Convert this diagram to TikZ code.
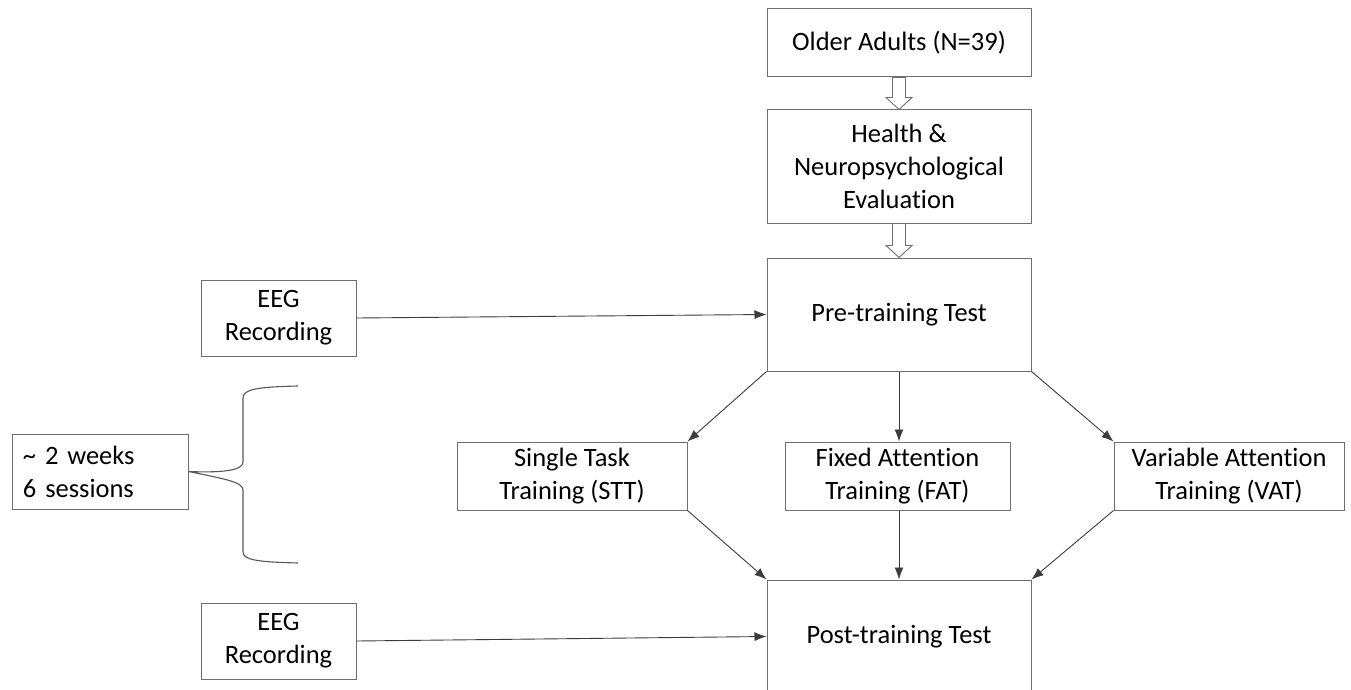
\documentclass[tikz,border=0pt]{standalone}
\usepackage{fontspec}
\setmainfont{Carlito}[Ligatures=NoCommon]
\usetikzlibrary{calc,arrows.meta}
\definecolor{boxline}{HTML}{6E6E6E}
\definecolor{arrline}{HTML}{3C3C3C}
\tikzset{
  box/.style={draw=boxline, line width=1pt, align=center, inner sep=2pt,
    font=\fontsize{26.5}{33}\selectfont, text=black},
  arr/.style={draw=arrline, line width=0.9pt, -{Latex[length=12pt,width=9pt]}},
  hollow/.style={draw=boxline, line width=0.9pt, fill=white},
  bracestyle/.style={draw=boxline!80!black, line width=1.1pt},
}
\begin{document}
\begin{tikzpicture}[x=1pt,y=-1pt]
\useasboundingbox (0,0) rectangle (1351,690);
\clip (0,0) rectangle (1351,690);
\fill[white] (0,0) rectangle (1351,690);

\node[box, minimum width=264, minimum height=68] (oa) at (899,43) {Older Adults (N=39)};
\node[box, minimum width=264, minimum height=113] (he) at (899,166.5) {Health \&\\Neuropsychological\\Evaluation};
\node[box, minimum width=264, minimum height=113] (pre) at (899,314.5) {Pre-training Test};
\node[box, minimum width=155, minimum height=76] (eeg1) at (278.5,318) {EEG\\Recording};
\node[box, minimum width=176, minimum height=75, align=left, text width=154] (wk) at (100,471.5) {\char`\~\ 2 weeks\\6 sessions};
\node[box, minimum width=230, minimum height=68] (stt) at (572,476) {Single Task\\Training (STT)};
\node[box, minimum width=225, minimum height=68] (fat) at (897.5,476) {Fixed Attention\\Training (FAT)};
\node[box, minimum width=230, minimum height=68] (vat) at (1229,476) {Variable Attention\\Training (VAT)};
\node[box, minimum width=264, minimum height=113] (post) at (899,636.5) {Post-training Test};
\node[box, minimum width=155, minimum height=76] (eeg2) at (278.5,641) {EEG\\Recording};

% hollow arrows
\foreach \a/\b in {oa/he, he/pre}{
  \draw[hollow] ($(\a.south)+(-6.5,0)$) -- ($(\a.south)+(6.5,0)$)
    -- ($(\b.north)+(6.5,-12)$) -- ($(\b.north)+(13,-12)$)
    -- (\b.north) -- ($(\b.north)+(-13,-12)$) -- ($(\b.north)+(-6.5,-12)$) -- cycle;
}

% connectors
\draw[arr] (eeg1.east) -- (pre.west);
\draw[arr] (eeg2.east) -- (post.west);
\draw[arr] (pre.south west) -- (stt.north east);
\draw[arr] (pre.south) -- (pre.south |- fat.north);
\draw[arr] (pre.south east) -- (vat.north west);
\draw[arr] (stt.south east) -- (post.north west);
\draw[arr] (fat.south -| post.north) -- (post.north);
\draw[arr] (vat.south west) -- (post.north east);

% brace
\coordinate (btop) at (298,386);
\coordinate (bbot) at (298,563);
\draw[bracestyle] (btop) .. controls (258,387) and (243,389) .. (243,398)
  -- (243,462) .. controls (243,470) and (225,473) .. (wk.east)
  .. controls (225,479) and (243,482) .. (243,490)
  -- (243,552) .. controls (243,560) and (258,562) .. (bbot);
\end{tikzpicture}
\end{document}
